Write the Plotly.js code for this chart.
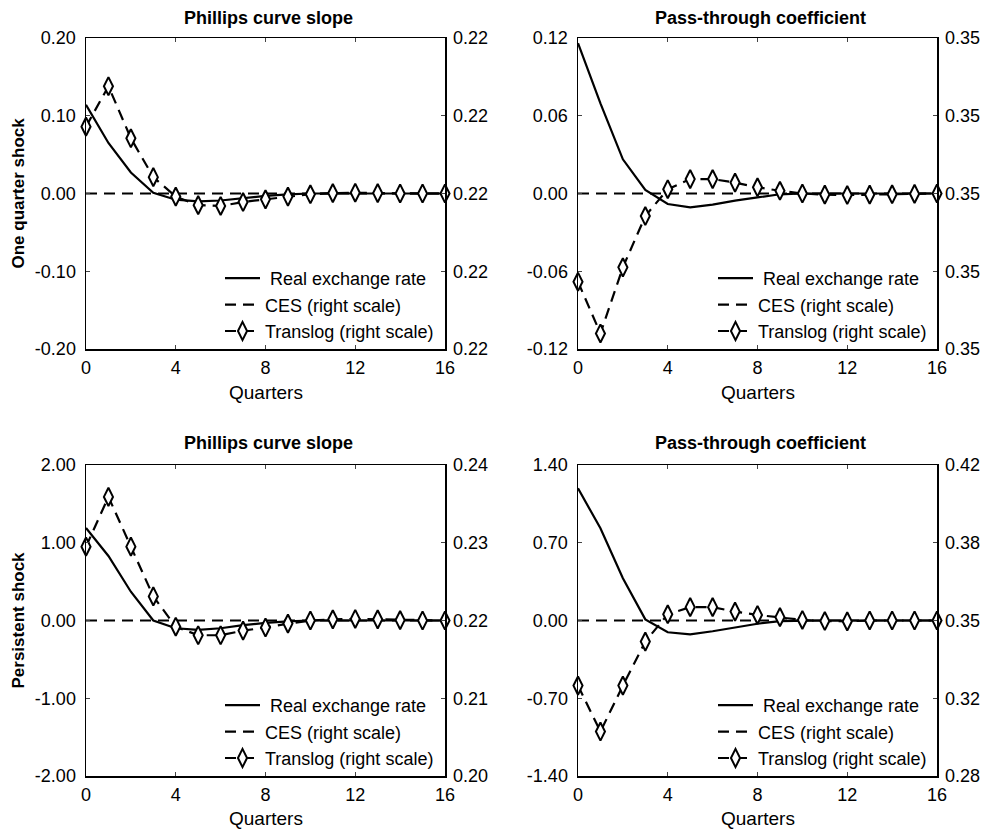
<!DOCTYPE html>
<html>
<head>
<meta charset="utf-8">
<script src="https://cdn.plot.ly/plotly-3.0.1.min.js"></script>
<style>html,body{margin:0;padding:0;background:#fff}#chart{width:982px;height:832px}</style>
</head>
<body>
<div id="chart"></div>
<script>
const quarters = [0,1,2,3,4,5,6,7,8,9,10,11,12,13,14,15,16];

// One quarter shock — Phillips curve slope
const rerPhillipsOne = [0.114,0.065,0.027,0.001,-0.008,-0.010,-0.009,-0.006,-0.003,-0.001,0,0,0,0,0,0,0];
const cesPhillipsOne = [0.22,0.22,0.22,0.22,0.22,0.22,0.22,0.22,0.22,0.22,0.22,0.22,0.22,0.22,0.22,0.22,0.22];
const translogPhillipsOne = [0.220172,0.220276,0.220142,0.220042,0.219992,0.219970,0.219968,0.219978,0.219985,0.219992,0.219998,0.220001,0.220002,0.220001,0.22,0.22,0.22];

// One quarter shock — Pass-through coefficient
const rerPassOne = [0.116,0.0696,0.0264,0.0027,-0.0081,-0.0107,-0.0086,-0.0055,-0.003,-0.0006,0,0,0,0,0,0,0];
const cesPassOne = [0.35,0.35,0.35,0.35,0.35,0.35,0.35,0.35,0.35,0.35,0.35,0.35,0.35,0.35,0.35,0.35,0.35];
const translogPassOne = [0.349773,0.34964,0.34981,0.349942,0.350011,0.350037,0.350037,0.350028,0.350016,0.350007,0.35,0.349997,0.349996,0.349997,0.349998,0.349999,0.35];

// Persistent shock — Phillips curve slope
const rerPhillipsPers = [1.19,0.83,0.37,0.0,-0.10,-0.12,-0.10,-0.06,-0.03,-0.01,0,0,0,0,0,0,0];
const cesPhillipsPers = [0.22,0.22,0.22,0.22,0.22,0.22,0.22,0.22,0.22,0.22,0.22,0.22,0.22,0.22,0.22,0.22,0.22];
const translogPhillipsPers = [0.2295,0.2359,0.2295,0.2231,0.2192,0.2181,0.2181,0.2187,0.2191,0.2196,0.22,0.22015,0.2202,0.22015,0.22005,0.22,0.22];

// Persistent shock — Pass-through coefficient
const rerPassPers = [1.19,0.83,0.38,0.01,-0.106,-0.124,-0.097,-0.061,-0.029,-0.005,0,0,0,0,0,0,0];
const cesPassPers = [0.35,0.35,0.35,0.35,0.35,0.35,0.35,0.35,0.35,0.35,0.35,0.35,0.35,0.35,0.35,0.35,0.35];
const translogPassPers = [0.3207,0.30,0.3207,0.3405,0.3528,0.356,0.356,0.354,0.3525,0.3515,0.35025,0.34975,0.3496,0.35,0.35,0.35,0.35];

const panelTitles = ["Phillips curve slope","Pass-through coefficient","Phillips curve slope","Pass-through coefficient"];
const rowTitles = ["One quarter shock","Persistent shock"];
const seriesNames = [" Real exchange rate","CES (right scale)","Translog (right scale)"];
const xTickVals = [0,4,8,12,16];

const leftRanges = [[-0.20,0.20],[-0.12,0.12],[-2,2],[-1.4,1.4]];
const leftTickVals = [[-0.20,-0.10,0,0.10,0.20],[-0.12,-0.06,0,0.06,0.12],[-2,-1,0,1,2],[-1.4,-0.7,0,0.7,1.4]];
const leftTickText = [["-0.20","-0.10","0.00","0.10","0.20"],["-0.12","-0.06","0.00","0.06","0.12"],["-2.00","-1.00","0.00","1.00","2.00"],["-1.40","-0.70","0.00","0.70","1.40"]];
const rightRanges = [[0.2196,0.2204],[0.3496,0.3504],[0.20,0.24],[0.28,0.42]];
const rightTickVals = [[0.2196,0.2198,0.22,0.2202,0.2204],[0.3496,0.3498,0.35,0.3502,0.3504],[0.20,0.21,0.22,0.23,0.24],[0.28,0.315,0.35,0.385,0.42]];
const rightTickText = [["0.22","0.22","0.22","0.22","0.22"],["0.35","0.35","0.35","0.35","0.35"],["0.20","0.21","0.22","0.23","0.24"],["0.28","0.32","0.35","0.38","0.42"]];

const rer = [rerPhillipsOne,rerPassOne,rerPhillipsPers,rerPassPers];
const ces = [cesPhillipsOne,cesPassOne,cesPhillipsPers,cesPassPers];
const tlg = [translogPhillipsOne,translogPassOne,translogPhillipsPers,translogPassPers];

const W = 982, H = 832;
const xDom = [[86/W,445/W],[578/W,937/W]];
const yDom = [[1-349/H,1-38/H],[1-776/H,1-465/H]];

const FONT = "Liberation Sans, Arial, sans-serif";
const traces = [];
const layout = {
  width: W, height: H,
  margin: {l:0,r:0,t:0,b:0},
  paper_bgcolor: "#fff", plot_bgcolor: "rgba(0,0,0,0)",
  font: {family: FONT, color: "#000", size: 18},
  annotations: [],
  showlegend: true
};

for (let p = 0; p < 4; p++) {
  const col = p % 2, row = Math.floor(p / 2);
  const xa = p === 0 ? "x" : "x" + (p + 1);
  const yl = 2 * p + 1, yr = 2 * p + 2;
  const ylName = yl === 1 ? "y" : "y" + yl;
  const yrName = "y" + yr;
  const legName = p === 0 ? "legend" : "legend" + (p + 1);

  traces.push({x: quarters, y: rer[p], xaxis: xa, yaxis: ylName, name: seriesNames[0], mode: "lines",
    line: {color: "#000", width: 2.2}, legend: legName});
  traces.push({x: quarters, y: ces[p], xaxis: xa, yaxis: yrName, name: seriesNames[1], mode: "lines",
    line: {color: "#000", width: 2.2, dash: "11px,7px"}, legend: legName});
  traces.push({x: quarters, y: tlg[p], xaxis: xa, yaxis: yrName, name: seriesNames[2], mode: "lines+markers",
    line: {color: "#000", width: 2.2, dash: "11px,7px"}, cliponaxis: false,
    marker: {symbol: "diamond-tall", size: 13, color: "#fff", line: {color: "#000", width: 2}}, legend: legName});

  const xKey = p === 0 ? "xaxis" : "xaxis" + (p + 1);
  layout[xKey] = {domain: xDom[col], anchor: ylName, range: [0,16], tickvals: xTickVals, ticktext: xTickVals.map(String),
    showline: true, linecolor: "#000", linewidth: 1.5, mirror: "ticks", ticks: "inside", ticklen: 4, tickwidth: 1, tickcolor: "#444",
    showgrid: false, zeroline: false, tickfont: {size: 18, family: FONT}, ticklabelstandoff: 2, fixedrange: true};
  const ylKey = yl === 1 ? "yaxis" : "yaxis" + yl;
  layout[ylKey] = {domain: yDom[row], anchor: xa, range: leftRanges[p], tickvals: leftTickVals[p], ticktext: leftTickText[p],
    showline: true, linecolor: "#000", linewidth: 1.5, ticks: "inside", ticklen: 4, tickwidth: 1, tickcolor: "#444",
    showgrid: false, zeroline: false, tickfont: {size: 18, family: FONT}, ticklabelstandoff: 5};
  layout["yaxis" + yr] = {domain: yDom[row], anchor: xa, overlaying: ylName, side: "right", range: rightRanges[p],
    tickvals: rightTickVals[p], ticktext: rightTickText[p],
    showline: true, linecolor: "#000", linewidth: 1.5, ticks: "inside", ticklen: 4, tickwidth: 1, tickcolor: "#444",
    showgrid: false, zeroline: false, tickfont: {size: 18, family: FONT}, ticklabelstandoff: 3};

  layout[legName] = {x: col === 0 ? 220 / W : 713 / W, y: row === 0 ? 1 - 260 / H : 1 - 687 / H,
    xanchor: "left", yanchor: "top", bgcolor: "rgba(0,0,0,0)", borderwidth: 0,
    font: {size: 18, family: FONT, color: "#000"}, tracegroupgap: 0, itemwidth: 35};

  const cx = (xDom[col][0] + xDom[col][1]) / 2;
  layout.annotations.push({text: "<b>" + panelTitles[p] + "</b>", xref: "paper", yref: "paper",
    x: cx + 3 / W, y: row === 0 ? 1 - 18 / H : 1 - 443 / H, xanchor: "center", yanchor: "middle", showarrow: false,
    font: {size: 18, family: FONT}});
  layout.annotations.push({text: "Quarters", xref: "paper", yref: "paper",
    x: cx, y: row === 0 ? 1 - 392 / H : 1 - 818 / H, xanchor: "center", yanchor: "middle", showarrow: false,
    font: {size: 19, family: FONT}});
}
for (let r = 0; r < 2; r++) {
  layout.annotations.push({text: "<b>" + rowTitles[r] + "</b>", xref: "paper", yref: "paper", textangle: -90,
    x: 18 / W, y: (yDom[r][0] + yDom[r][1]) / 2, xanchor: "center", yanchor: "middle", showarrow: false,
    font: {size: 17, family: FONT}});
}

Plotly.newPlot("chart", traces, layout, {displayModeBar: false, staticPlot: true});
</script>
</body>
</html>
